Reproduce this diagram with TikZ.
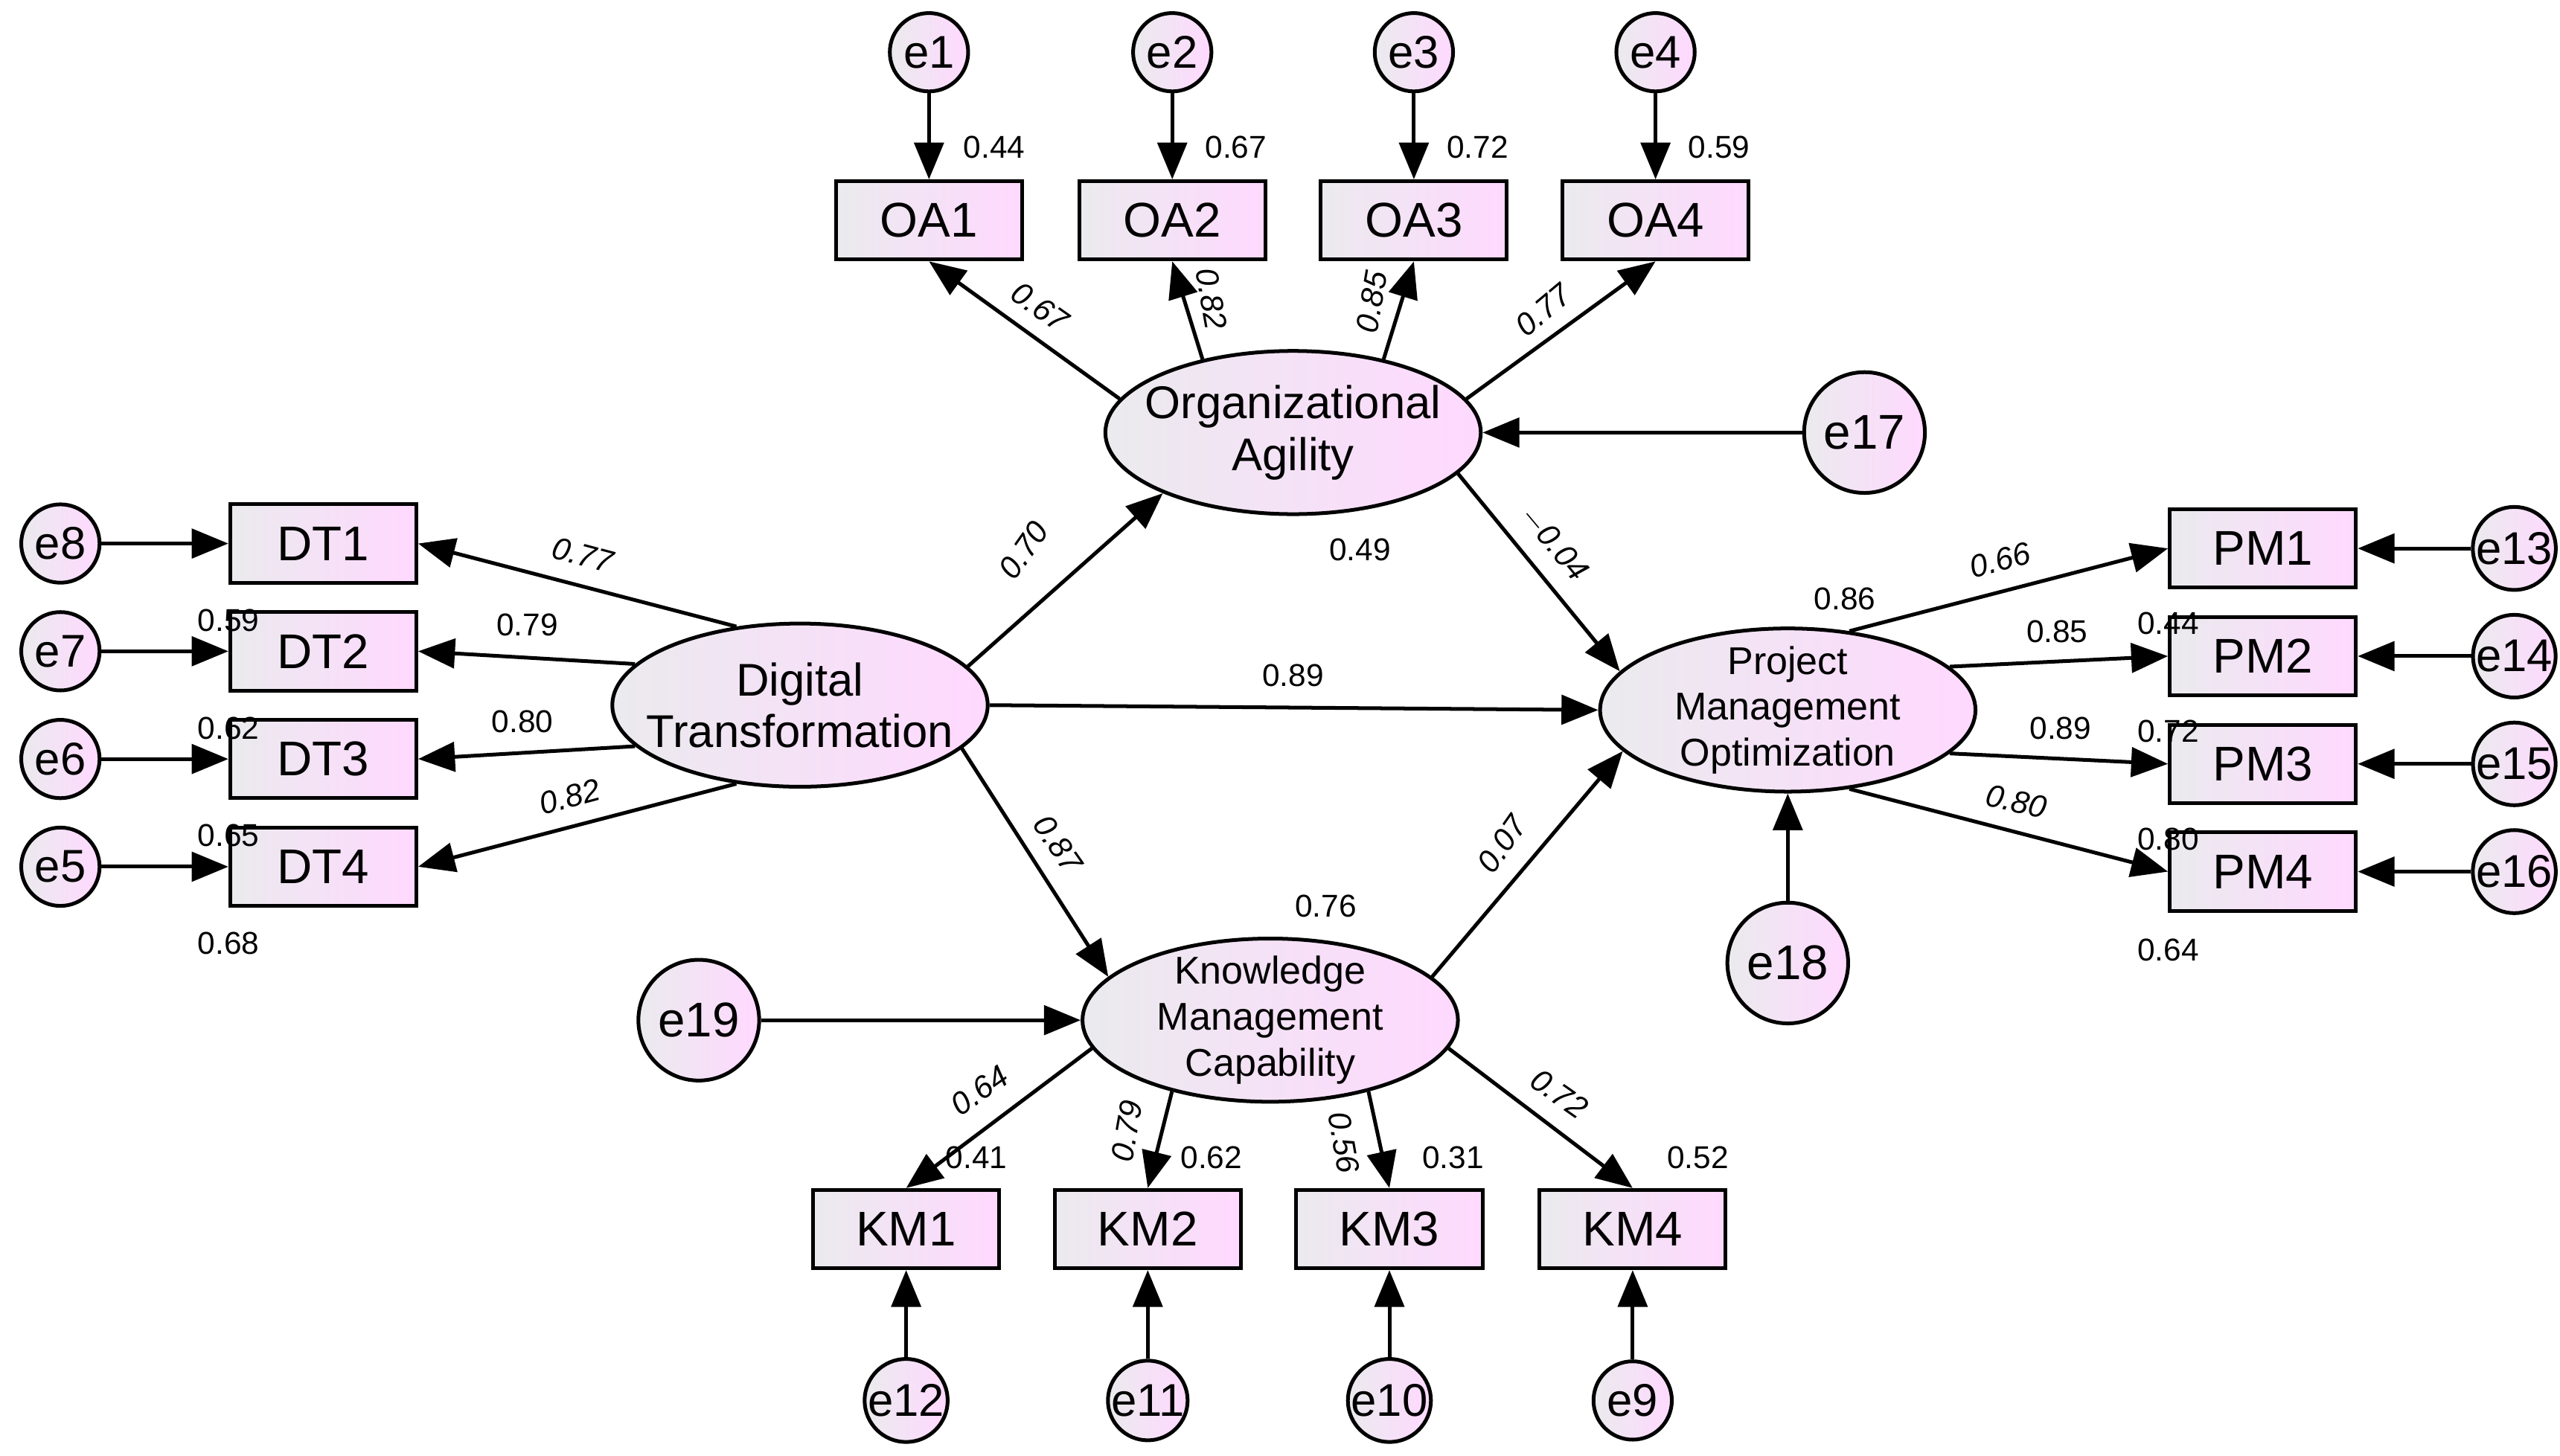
\documentclass[tikz,border=0pt]{standalone}
\usepackage{fontspec}
\setmainfont{Liberation Sans}
\usetikzlibrary{shapes.geometric,arrows.meta}
\begin{document}
\begin{tikzpicture}[x=0.02cm,y=-0.02cm,
 sh/.style={left color=blue!8!gray!15, right color=magenta!15, draw=black, line width=1.3pt},
 box/.style={sh, rectangle, minimum width=2.28cm, minimum height=0.96cm, inner sep=0pt, font=\fontsize{17}{17}\selectfont},
 ec/.style={sh, circle, minimum size=0.96cm, inner sep=0pt, font=\fontsize{16}{16}\selectfont},
 bc/.style={sh, circle, minimum size=1.48cm, inner sep=0pt, font=\fontsize{17}{17}\selectfont},
 lat/.style={sh, ellipse, minimum width=4.6cm, minimum height=2cm, inner sep=-9pt, align=center},
 ar/.style={line width=1.3pt, -{Triangle[length=0.45cm,width=0.36cm]}},
 num/.style={font=\fontsize{11}{11}\selectfont, inner sep=0pt},
 it/.style={font=\fontsize{11}{11}\selectfont\itshape, inner sep=0pt}]
\useasboundingbox (0,0) rectangle (1568,892);
% latent
\node[lat, font=\fontsize{16}{18}\selectfont] (OA) at (792,265) {Organizational\\Agility};
\node[lat, font=\fontsize{16}{18}\selectfont] (DT) at (490,432) {Digital\\Transformation};
\node[lat, font=\fontsize{13.5}{16}\selectfont] (PM) at (1095,435) {Project\\Management\\Optimization};
\node[lat, font=\fontsize{13.5}{16}\selectfont] (KM) at (778,625) {Knowledge\\Management\\Capability};
\node[bc] (e17) at (1142,265) {e17};
\node[bc] (e18) at (1095,590) {e18};
\node[bc] (e19) at (428,625) {e19};
% OA
\foreach \i/\x/\a in {1/569/169,2/718/141,3/866/39,4/1014/11}{
 \node[box] (OA\i) at (\x,135) {OA\i};
 \node[ec] (e\i) at (\x,32) {e\i};
 \draw[ar] (e\i) -- (OA\i);
 \draw[ar] (OA.\a) -- (OA\i.south);}
% DT
\foreach \i/\y/\e/\a in {1/333/8/129,2/399/7/166,3/465/6/194,4/531/5/231}{
 \node[box] (DT\i) at (198,\y) {DT\i};
 \node[ec] (e\e) at (37,\y) {e\e};
 \draw[ar] (e\e) -- (DT\i);
 \draw[ar] (DT.\a) -- (DT\i.east);}
% PM
\foreach \i/\y/\e/\a in {1/336/13/52,2/402/14/15,3/468/15/-15,4/534/16/-52}{
 \node[box] (PM\i) at (1386,\y) {PM\i};
 \node[ec] (e\e) at (1540,\y) {e\e};
 \draw[ar] (e\e) -- (PM\i);
 \draw[ar] (PM.\a) -- (PM\i.west);}
% KM
\foreach \i/\x/\e/\a in {1/555/12/189,2/703/11/216,3/851/10/-36,4/1000/9/-9}{
 \node[box] (KM\i) at (\x,753) {KM\i};
 \node[ec] (e\e) at (\x,858) {e\e};
 \draw[ar] (e\e) -- (KM\i);
 \draw[ar] (KM.\a) -- (KM\i.north);}
\draw[ar] (DT.13) -- (OA.205);
\draw[ar] (DT.0) -- (PM.180);
\draw[ar] (DT.-15) -- (KM.165);
\draw[ar] (OA.-14) -- (PM.167);
\draw[ar] (KM.15) -- (PM.194);
\draw[ar] (e17) -- (OA);
\draw[ar] (e18) -- (PM);
\draw[ar] (e19) -- (KM);
% numbers
\foreach \p/\t in {{(609,90)}/0.44,{(757,90)}/0.67,{(905,90)}/0.72,{(1053,90)}/0.59,
 {(833,337)}/0.49,{(140,380)}/0.59,{(140,446)}/0.62,{(140,512)}/0.65,{(140,578)}/0.68,
 {(792,414)}/0.89,{(812,555)}/0.76,{(1130,367)}/0.86,{(1260,387)}/0.85,{(1262,446)}/0.89,
 {(1328,382)}/0.44,{(1328,448)}/0.72,{(1328,514)}/0.80,{(1328,582)}/0.64,
 {(598,709)}/0.41,{(742,709)}/0.62,{(890,709)}/0.31,{(1040,709)}/0.52,{(323,383)}/0.79,{(320,442)}/0.80}
 \node[num] at \p {\t};
\node[it,rotate=-35] at (637,188) {0.67};
\node[it,rotate=-80] at (742,183) {0.82};
\node[it,rotate=80] at (840,185) {0.85};
\node[it,rotate=40] at (945,190) {0.77};
\node[it,rotate=55] at (627,337) {0.70};
\node[it,rotate=-50] at (952,333) {$-$0.04};
\node[it,rotate=-15] at (357,340) {0.77};
\node[it,rotate=15] at (349,488) {0.82};
\node[it,rotate=-55] at (648,517) {0.87};
\node[it,rotate=55] at (920,517) {0.07};
\node[it,rotate=15] at (1225,343) {0.66};
\node[it,rotate=-12] at (1235,491) {0.80};
\node[it,rotate=35] at (600,668) {0.64};
\node[it,rotate=80] at (690,693) {0.79};
\node[it,rotate=-80] at (823,700) {0.56};
\node[it,rotate=-35] at (955,670) {0.72};
\end{tikzpicture}
\end{document}
